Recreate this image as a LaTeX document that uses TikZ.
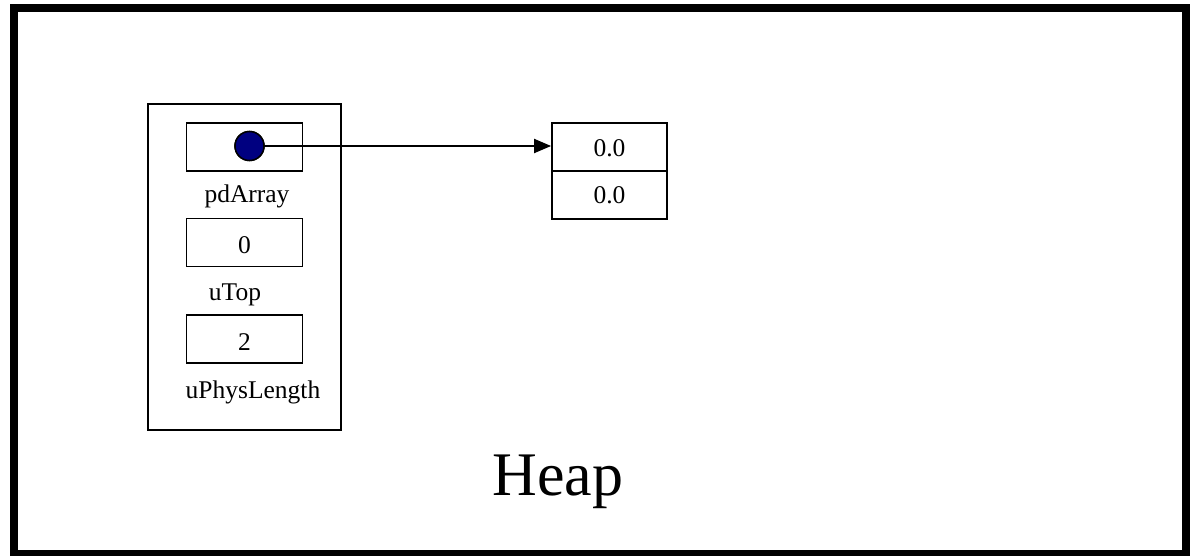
\documentclass[tikz,border=0pt]{standalone}
\usepackage{fontspec}
\setmainfont{Liberation Serif}
\usetikzlibrary{arrows.meta}
\definecolor{dotblue}{RGB}{0,0,128}
\begin{document}
\begin{tikzpicture}[x=1pt,y=-1pt,
  cell/.style={draw,line width=1.8pt,minimum width=116pt,minimum height=48pt,inner sep=0pt},
  lbl/.style={inner sep=0pt,anchor=base,font=\fontsize{25.5}{30}\selectfont},
  conn/.style={line width=2pt,-{Triangle[length=17pt,width=14pt]}}]
\useasboundingbox (0,0) rectangle (1191,556);
\node[draw,line width=8pt,minimum width=1172pt,minimum height=546pt,inner sep=0pt] (frame) at (600,281) {};
\node[draw,line width=1.8pt,minimum width=193pt,minimum height=326pt,inner sep=0pt] (obj) at (244.5,267) {};
\node[cell] (pd) at (244.5,147) {};
\node[circle,draw,line width=1.5pt,fill=dotblue,minimum size=29pt,inner sep=0pt] (dot) at (249.5,146) {};
\node[lbl] (pdl) at (247,203) {pdArray};
\node[cell] (top) at (244.5,242.5) {};
\node[lbl] (topv) at (244.5,253) {0};
\node[lbl] (topl) at (235,300) {uTop};
\node[cell] (len) at (244.5,339) {};
\node[lbl] (lenv) at (244.5,350) {2};
\node[lbl] (lenl) at (253,398) {uPhysLength};
\node[cell,minimum width=115pt] (a0) at (609.5,147) {};
\node[lbl] (a0v) at (609.5,157) {0.0};
\node[cell,minimum width=115pt] (a1) at (609.5,195) {};
\node[lbl] (a1v) at (609.5,204) {0.0};
\node[inner sep=0pt,anchor=base,font=\fontsize{62}{70}\selectfont] (heap) at (558,495) {Heap};
\draw[conn] (dot.center) -- (a0.west |- dot.center);
\node[circle,draw,line width=1.5pt,fill=dotblue,minimum size=29pt,inner sep=0pt] at (dot) {};
\end{tikzpicture}
\end{document}
